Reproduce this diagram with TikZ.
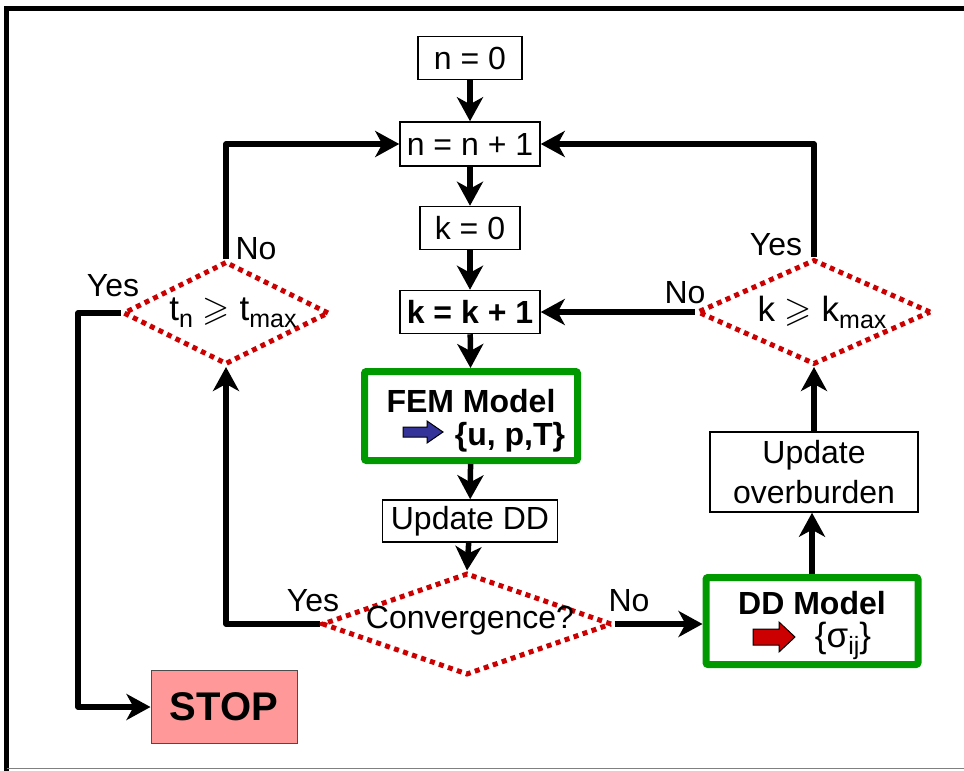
\documentclass[tikz,border=0pt]{standalone}
\usepackage{fontspec}
\setmainfont{Liberation Sans}
\usepackage{amssymb}
\usetikzlibrary{arrows.meta,shapes.geometric,calc}
\definecolor{ddred}{HTML}{CC0000}
\definecolor{boxgreen}{HTML}{009900}
\definecolor{stopfill}{HTML}{FF9999}
\definecolor{femblue}{HTML}{333399}
\newcommand{\sbs}[1]{\raisebox{-7pt}{\fontsize{25}{27}\selectfont #1}}
\begin{document}
\begin{tikzpicture}[x=1pt,y=-1pt,
 txt/.style={font=\fontsize{32}{40}\selectfont},
 btxt/.style={font=\fontsize{32}{40}\selectfont\bfseries},
 box/.style={draw, line width=1.5pt, inner sep=0pt, txt},
 model/.style={draw=boxgreen, line width=7pt, rounded corners=2pt, inner sep=0pt},
 dia/.style={diamond, draw=ddred, line width=5pt, dash pattern=on 5pt off 4.5pt, inner sep=0pt},
 dtxt/.style={font=\fontsize{35}{40}\selectfont, inner sep=0pt},
 arr/.style={line width=5.5pt, line join=round, -{Stealth[length=24pt,width=26pt,inset=7pt]}},
 lbl/.style={txt, inner sep=0pt},
 blk/.style={draw=black, line width=1pt, line join=miter}
]
\useasboundingbox (0,0) rectangle (964,771);
% frame
\draw[line width=5pt] (6.5,771) -- (6.5,8) -- (964,8);
\draw[gray, line width=1.2pt] (6.5,768.5) -- (964,768.5);

% nodes
\node[box, minimum width=104pt, minimum height=43pt] (n0) at (470,58) {n = 0};
\node[box, minimum width=140pt, minimum height=44pt] (n1) at (470,144) {n = n + 1};
\node[box, minimum width=100pt, minimum height=43pt] (k0) at (470,228) {k = 0};
\node[box, minimum width=140pt, minimum height=43pt, font=\fontsize{32}{40}\selectfont\bfseries] (k1) at (470,312) {k = k + 1};
\node[model, minimum width=213pt, minimum height=89pt] (fem) at (471,416) {};
\node[btxt, inner sep=0pt, text depth=0pt] (femt) at (471,401) {FEM Model};
\node[btxt, inner sep=0pt, text height=22pt] (femu) at (510,438) {\{u, p,T\}};
\fill[femblue, blk] (403,427) -- (427,427) -- (427,421) -- (443,432) -- (427,443) -- (427,437) -- (403,437) -- cycle;
\node[box, minimum width=175pt, minimum height=42pt] (upd) at (470,521) {Update DD};
\node[dia, minimum width=290pt, minimum height=102pt] (conv) at (467,624) {};
\node[lbl] (convt) at (470,621) {Convergence?};
\node[model, minimum width=212pt, minimum height=87pt] (dd) at (812,621) {};
\node[btxt, inner sep=0pt, text depth=0pt] (ddt) at (812,603) {DD Model};
\node[font=\fontsize{35}{40}\selectfont, inner sep=0pt, text height=22pt] (dds) at (843,643) {\{σ\sbs{ij}\}};
\fill[ddred, blk] (753,629) -- (779,629) -- (779,622) -- (795,637) -- (779,652) -- (779,645) -- (753,645) -- cycle;
\node[box, minimum width=208pt, minimum height=80pt, align=center] (ob) at (814,472) {Update\\overburden};
\node[dia, minimum width=234pt, minimum height=105pt] (km) at (814,312) {};
\node[dtxt] (kmt) at (822,312) {k $\geqslant$ k\sbs{max}};
\node[dia, minimum width=206pt, minimum height=103pt] (tn) at (226,313) {};
\node[dtxt] (tnt) at (233,313) {t\sbs{n} $\geqslant$ t\sbs{max}};
\node[draw=black!70, line width=1pt, fill=stopfill, minimum width=146pt, minimum height=73pt, font=\fontsize{40}{44}\selectfont\bfseries] (stop) at (224,707) {STOP};
\coordinate (c1) at (78,313);

% connectors
\draw[arr] (n0) -- (n1);
\draw[arr] (n1) -- (k0);
\draw[arr] (k0) -- (k1);
\draw[arr] (k1) -- (fem);
\draw[arr] (fem) -- (upd);
\draw[arr] (upd) -- (conv.north);
\draw[arr] (conv.east) -- (conv.east -| dd.west);
\draw[arr] (dd.north) -- (dd.north |- ob.south);
\draw[arr] (ob.north) -- (km.south);
\draw[arr] (km.west) -- (km.west -| k1.east);
\draw[arr] (km.north) |- (n1.east);
\draw[arr] (conv.west) -| (tn.south);
\draw[arr] (tn.north) |- (n1.west);
\draw[arr] (tn.west) -- (c1) |- (stop.west);

% labels
\node[lbl] (l1) at (256,249) {No};
\node[lbl] (l2) at (113,286) {Yes};
\node[lbl] (l3) at (776,245) {Yes};
\node[lbl] (l4) at (685,293) {No};
\node[lbl] (l5) at (313,601) {Yes};
\node[lbl] (l6) at (629,601) {No};
\end{tikzpicture}
\end{document}
